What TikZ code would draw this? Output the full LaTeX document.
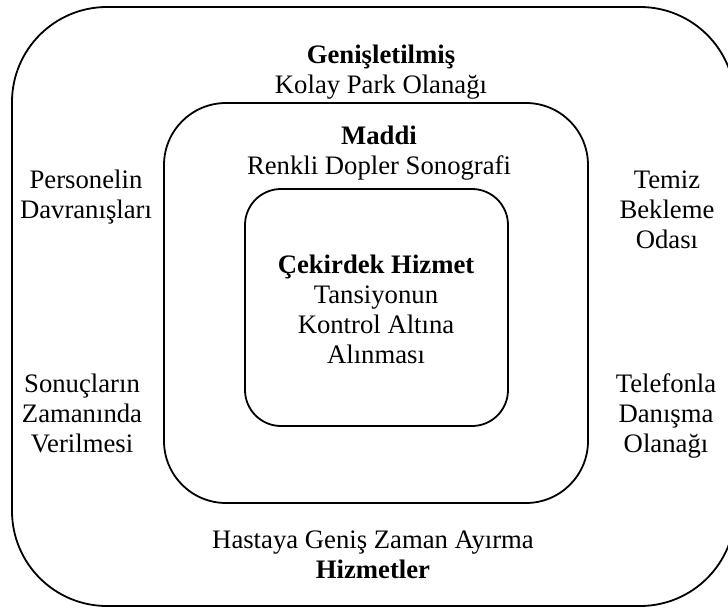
\documentclass[tikz,border=0pt]{standalone}
\usepackage{fontspec}
\setmainfont{Liberation Serif}
\begin{document}
\begin{tikzpicture}[x=1pt,y=-1pt,
  ring/.style={draw=black, line width=1.8pt, inner sep=0pt, outer sep=0pt},
  % anchored at the baseline of the last line of each label
  tag/.style={align=center, anchor=base, inner sep=0pt,
    font=\fontsize{26.7}{30}\selectfont}]
\useasboundingbox (0,0) rectangle (728,608);

% three nested service levels
\node[ring, rounded corners=95pt, minimum width=723pt, minimum height=599pt]
  (outer) at (373.5,306.5) {};
\node[ring, rounded corners=62pt, minimum width=424pt, minimum height=400pt]
  (middle) at (376,303) {};
\node[ring, rounded corners=36pt, minimum width=263pt, minimum height=237pt]
  (inner) at (376.5,307.5) {};

% labels
\node[tag] (ext) at (381,93) {\textbf{Genişletilmiş}\\Kolay Park Olanağı};
\node[tag] (mat) at (379,174) {\textbf{Maddi}\\Renkli Dopler Sonografi};
\node[tag] (core) at (376,363)
  {\textbf{Çekirdek Hizmet}\\Tansiyonun\\Kontrol Altına\\Alınması};
\node[tag] (staff) at (86,218) {Personelin\\Davranışları};
\node[tag] (results) at (82,452) {Sonuçların\\Zamanında\\Verilmesi};
\node[tag] (clean) at (667,248) {Temiz\\Bekleme\\Odası};
\node[tag] (phone) at (666,452) {Telefonla\\Danışma\\Olanağı};
\node[tag] (time) at (373,578) {Hastaya Geniş Zaman Ayırma\\\textbf{Hizmetler}};
\end{tikzpicture}
\end{document}
